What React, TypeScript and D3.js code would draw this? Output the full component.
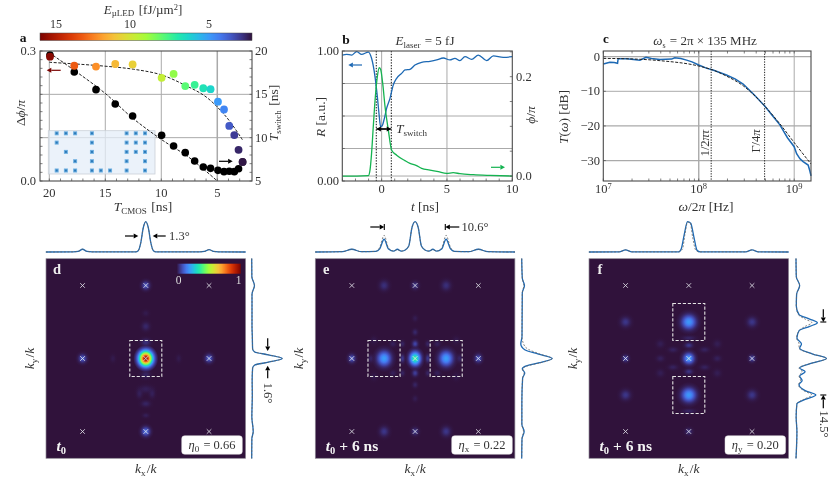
import React from "react";
import * as d3 from "d3";

// ---------- data ----------
const TURBO = ["#30123b","#4145ab","#4675ed","#39a2fc","#1bcfd4","#24eca6","#61fc6c","#a4fc3b","#d1e834","#f3c63a","#fe9b2d","#f36315","#d93806","#b11901","#7a0402"];
const turbo = d3.piecewise(d3.interpolateRgb, TURBO) as (t: number) => string;

const tCmos = [19.94,17.77,15.83,14.11,12.56,9.97,8.9,7.86,7.02,6.25,5.6,4.94,4.4,3.93,3.48,3.1,2.74];
const dPhi = [.287,.266,.264,.27,.269,.238,.247,.219,.222,.214,.212,.183,.165,.127,.106,.072,.044];
const tSwitch = [19.54,17.58,15.54,13.88,12.5,10.27,9.04,8.27,7.31,6.62,6.46,6.23,6.08,6.12,6.08,6.42,7.19];
const eLed = [15.8,13.3,12.3,11.4,10.8,9.8,8.85,8,7.46,6.8,6.35,5,4.55,3.6,3,2.6,2.3];
const phiFit = [[20,.274],[15.5,.266],[12.5,.258],[10,.245],[7.8,.22],[6,.194],[4.2,.148],[2.75,.095]];
const switchFit = [[20,19.8],[17.8,17.8],[15,15.1],[12.6,12.3],[10,9.8],[7.5,7.7],[5,5]];

const insetCols = [0,1,2,3.83,4.8,5.8,7.6,8.6,9.6];
const insetDots = [[0,0],[1,0],[2,0],[3,0],[6,0],[7,0],[8,0],[0,1],[3,1],[6,1],[7,1],[8,1],[1,2],[3,2],[6,2],[7,2],[8,2],[2,3],[3,3],[6,3],[8,3],[0,4],[1,4],[2,4],[3,4],[4,4],[5,4],[6,4],[8,4]];

const bR = [[-3.01,.969],[-2.68,.974],[-2.3,.969],[-1.91,.995],[-1.53,.974],[-1.02,.992],[-.77,.944],[-.51,.805],[-.33,.651],[-.18,.497],[-.08,.418],[.03,.423],[.18,.469],[.38,.559],[.64,.636],[.89,.738],[1.15,.79],[1.53,.828],[1.79,.854],[2.17,.859],[2.55,.892],[3.06,.913],[3.7,.921],[4.21,.931],[4.72,.946],[5.23,.931],[5.61,.944],[5.99,.926],[6.38,.956],[6.89,.936],[7.4,.969],[8.04,.926],[8.55,.962],[9.31,.951],[10,.956]];
const bPhi = [[-3.01,0],[-1.91,0],[-1.02,.0007],[-.89,.012],[-.77,.0456],[-.64,.0993],[-.48,.16],[-.33,.2],[-.18,.218],[-.08,.215],[.08,.187],[.26,.14],[.51,.093],[.77,.052],[1.15,.042],[1.79,.031],[2.17,.0255],[2.63,.0215],[3.06,.0154],[3.7,.012],[4.34,.0087],[4.97,.0054],[5.48,.0067],[5.99,.0047],[7.02,.0027],[8.29,.0013],[10,0]];
const bSwitchLines = [-.41,.74];

const cMeas = [[1e7,-2.1],[1.17e7,-1.6],[1.3e7,-1.7],[1.41e7,-1.9],[1.43e7,-.6],[1.76e7,-.6],[2.42e7,-1],[2.8e7,-.2],[3.2e7,-.5],[3.92e7,-.8],[5.2e7,-.7],[5.6e7,-.3],[6.5e7,-.5],[7.46e7,-1],[8.5e7,-1.5],[1e8,-2.4],[1.2e8,-3.3],[1.41e8,-3.85],[1.95e8,-5.3],[2.4e8,-6.4],[2.92e8,-7.9],[3.8e8,-11],[4.89e8,-14.2],[5.9e8,-17],[7.08e8,-19.7],[8.5e8,-23.4],[1e9,-26],[1.06e9,-28],[1.15e9,-29.5],[1.24e9,-30.3],[1.4e9,-31.3],[1.46e9,-33],[1.5e9,-34.4]];
const cFit = [[1e7,-.5],[1.76e7,-.6],[3.92e7,-1.15],[1e8,-2.7],[1.41e8,-3.85],[1.95e8,-5.6],[2.92e8,-8.4],[4.89e8,-14.2],[7.08e8,-19.4],[1e9,-24.8],[1.5e9,-31]];
const cLines = [1.35e8,4.9e8];

// profiles: [k, normalised intensity]
const dTop = [[-1.58,0],[-1.15,.005],[-1.07,.02],[-1,.09],[-.93,.02],[-.85,.005],[-.16,.005],[-.12,.04],[-.08,.3],[-.04,.8],[0,1],[.04,.8],[.08,.3],[.12,.04],[.16,.005],[.85,.005],[.93,.02],[1,.08],[1.07,.02],[1.15,.005],[1.58,0]];
const dRight = [[1.37,0],[1.12,.005],[1,.09],[.88,.01],[.45,.01],[.3,.02],[.13,.03],[.09,.1],[.05,.55],[0,1],[-.05,.55],[-.09,.1],[-.13,.03],[-.3,.015],[-.5,.02],[-.8,.005],[-1,.05],[-1.1,.005],[-1.37,0]];
const eTop = [[-1.58,0],[-1.15,.01],[-1,.09],[-.85,.01],[-.62,.02],[-.56,.1],[-.49,.42],[-.42,.1],[-.34,.03],[-.28,.09],[-.22,.03],[-.17,.05],[-.1,.2],[-.05,.8],[0,1],[.05,.8],[.1,.2],[.17,.05],[.22,.03],[.28,.09],[.34,.03],[.42,.1],[.49,.42],[.56,.1],[.62,.02],[.85,.01],[1,.09],[1.15,.01],[1.58,0]];
const eTopSim = [[-1.58,0],[-1.15,.01],[-1,.09],[-.85,.01],[-.62,.02],[-.56,.15],[-.49,.55],[-.42,.13],[-.34,.03],[-.28,.08],[-.22,.03],[-.17,.05],[-.1,.2],[-.05,.8],[0,1],[.05,.8],[.1,.2],[.17,.05],[.22,.03],[.28,.08],[.34,.03],[.42,.13],[.49,.55],[.56,.15],[.62,.02],[.85,.01],[1,.09],[1.15,.01],[1.58,0]];
const eRight = [[1.37,0],[1.1,.02],[1,.09],[.9,.02],[.3,.01],[.2,-.03],[.12,.1],[.06,.55],[0,1],[-.06,.55],[-.1,.15],[-.14,.02],[-.2,.1],[-.27,.03],[-.6,.005],[-.9,.005],[-1,.08],[-1.1,.01],[-1.37,0]];
const eRightSim = [[1.37,0],[1.1,.02],[1,.07],[.9,.02],[.3,.01],[.2,.06],[.13,.2],[.06,.6],[0,1],[-.06,.6],[-.1,.2],[-.14,.03],[-.2,.08],[-.27,.03],[-.6,.005],[-.9,.005],[-1,.06],[-1.1,.01],[-1.37,0]];
const fTop = [[-1.58,0],[-1.1,.005],[-1,.07],[-.9,.005],[-.16,.005],[-.12,.1],[-.07,.6],[-.02,1],[.03,.95],[.08,.5],[.13,.06],[.18,.005],[.9,.005],[1,.07],[1.1,.005],[1.58,0]];
const fTopSim = [[-1.58,0],[-1.1,.005],[-1,.07],[-.9,.005],[-.16,.005],[-.1,.1],[-.06,.6],[-.02,.98],[.02,.98],[.06,.5],[.11,.06],[.16,.005],[.9,.005],[1,.07],[1.1,.005],[1.58,0]];
const fRight = [[1.37,0],[1.12,.01],[1,.12],[.88,.02],[.72,.01],[.6,.1],[.54,.45],[.49,.7],[.44,.45],[.38,.1],[.28,.03],[.2,.18],[.14,.12],[.06,.55],[0,1],[-.06,.55],[-.13,.12],[-.18,.3],[-.24,.12],[-.3,.2],[-.36,.1],[-.44,.3],[-.5,.65],[-.56,.3],[-.62,.03],[-.8,.005],[-1,.03],[-1.37,0]];
const fRightSim = [[1.37,0],[1.12,.01],[1,.12],[.88,.02],[.72,.01],[.6,.08],[.54,.3],[.49,.52],[.44,.3],[.38,.1],[.28,.02],[.2,.1],[.14,.1],[.06,.55],[0,1],[-.06,.55],[-.13,.1],[-.18,.2],[-.24,.1],[-.3,.15],[-.36,.08],[-.44,.25],[-.5,.52],[-.56,.25],[-.62,.03],[-.8,.005],[-1,.03],[-1.37,0]];

// spots: [kx, ky, amplitude, radius x, radius y]
const dSpots = [[1,0,.1,.12,.11],[-1,0,.1,.12,.11],[0,1,.09,.12,.11],[0,-1,.13,.13,.12],[.52,0,.012,.08,.1],[-.52,0,.012,.08,.1],[0,.44,.03,.12,.11],[0,.62,.012,.1,.08],[0,-.42,.018,.2,.1],[-.1,-.48,.02,.09,.12],[.1,-.48,.02,.09,.12],[0,-.62,.025,.14,.08],[0,-.78,.018,.1,.06],[0,.22,.04,.14,.1],[0,-.22,.025,.14,.1],[0,0,1,.2,.19]];
const eSpots = [[1,0,.09,.11,.11],[-1,0,.09,.11,.11],[0,1,.05,.11,.1],[0,-1,.05,.11,.1],[.49,1,.04,.14,.13],[-.49,1,.04,.14,.13],[.49,-1,.05,.14,.13],[-.49,-1,.05,.14,.13],[0,.2,.07,.09,.09],[0,-.2,.06,.09,.09],[0,.36,.03,.08,.08],[0,-.36,.025,.08,.08],[0,.55,.015,.08,.08],[0,-.55,.015,.08,.08],[.2,0,.05,.07,.11],[-.2,0,.05,.07,.11],[.2,.2,.025,.07,.08],[-.2,.2,.025,.07,.08],[.2,-.2,.025,.07,.08],[-.2,-.2,.025,.07,.08],[.35,.2,.02,.1,.08],[-.35,.2,.02,.1,.08],[.35,-.2,.02,.1,.08],[-.35,-.2,.02,.1,.08],[.7,0,.025,.08,.1],[-.7,0,.025,.08,.1],[.65,.25,.012,.1,.1],[-.65,.25,.012,.1,.1],[.65,-.25,.012,.1,.1],[-.65,-.25,.012,.1,.1],[.49,0,.21,.2,.19],[-.49,0,.21,.2,.19],[0,0,.38,.16,.17]];
const fSpots = [[0,.5,.2,.21,.18],[0,-.5,.2,.21,.18],[0,0,.21,.16,.14],[1,0,.07,.1,.09],[-1,0,.07,.1,.09],[1,.5,.05,.15,.13],[-1,.5,.05,.15,.13],[1,-.5,.05,.15,.13],[-1,-.5,.05,.15,.13],[0,-1,.04,.11,.09],[0,.18,.05,.12,.07],[0,-.18,.045,.12,.07],[0,.28,.025,.2,.06],[0,-.72,.025,.2,.06],[.25,.12,.022,.14,.07],[-.25,.12,.022,.14,.07],[.25,-.12,.022,.14,.07],[-.25,-.12,.022,.14,.07],[.45,0,.02,.12,.08],[-.45,0,.02,.12,.08],[.45,.2,.016,.12,.1],[-.45,.2,.016,.12,.1],[.45,-.2,.016,.12,.1],[-.45,-.2,.016,.12,.1]];
const crosses = [[-1,1],[0,1],[1,1],[-1,0],[0,0],[1,0],[-1,-1],[0,-1],[1,-1]];
const dBoxes = [[-.253,.253,-.247,.247]];
const eBoxes = [[-.745,-.238,-.247,.247],[.238,.745,-.247,.247]];
const fBoxes = [[-.253,.253,.247,.753],[-.253,.253,-.753,-.247]];

// ---------- styling ----------
const FONT = "'Liberation Serif', serif";
const INK = "#333";
const GRID = "#aaa";
const FRAME = "#4a4a4a";
const BLUE = "#1d69b4";
const GREEN = "#14b350";
const DARKRED = "#7a0402";
const range = (a: number, b: number, s: number) => d3.range(a, b + s / 2, s);

const Sub = ({ t, size = 9 }: any) => <><tspan dy={2.6} fontSize={size}>{t}</tspan><tspan dy={-2.6}>{"\u200a"}</tspan></>;
const I = ({ children }: any) => <tspan fontStyle="italic">{children}</tspan>;

function Txt({ x, y, size = 12, anchor = "middle", rotate, fill = INK, weight, children }: any) {
  return <text x={rotate ? 0 : x} y={rotate ? 0 : y} transform={rotate ? `translate(${x},${y}) rotate(${rotate})` : undefined}
    fontFamily={FONT} fontSize={size} textAnchor={anchor} fill={fill} fontWeight={weight}>{children}</text>;
}

function Arrow({ x1, y1, x2, y2, color = "#000", bar = false }: any) {
  const a = Math.atan2(y2 - y1, x2 - x1), h = 4.6, w = 2.5;
  const bx = x2 - h * Math.cos(a), by = y2 - h * Math.sin(a);
  const nx = -Math.sin(a) * w, ny = Math.cos(a) * w;
  return <g>
    <line x1={x1} y1={y1} x2={bx} y2={by} stroke={color} strokeWidth={1.2} />
    <polygon points={`${x2},${y2} ${bx + nx},${by + ny} ${bx - nx},${by - ny}`} fill={color} />
    {bar && <line x1={x2 + nx * 1.2} y1={y2 + ny * 1.2} x2={x2 - nx * 1.2} y2={y2 - ny * 1.2} stroke={color} strokeWidth={1.1} />}
  </g>;
}

function VTicks({ xs, y0, y1, len = 2.5 }: any) {
  return <g stroke={FRAME} strokeWidth={.7}>{xs.map((v: number, i: number) => <g key={i}>
    {y0 != null && <line x1={v} x2={v} y1={y0} y2={y0 - len} />}
    {y1 != null && <line x1={v} x2={v} y1={y1} y2={y1 + len} />}
  </g>)}</g>;
}
function HTicks({ ys, x0, x1, len = 2.5 }: any) {
  return <g stroke={FRAME} strokeWidth={.7}>{ys.map((v: number, i: number) => <g key={i}>
    {x0 != null && <line x1={x0} x2={x0 + len} y1={v} y2={v} />}
    {x1 != null && <line x1={x1} x2={x1 - len} y1={v} y2={v} />}
  </g>)}</g>;
}
const Frame = ({ x, y, w, h }: any) => <rect x={x} y={y} width={w} height={h} fill="none" stroke={FRAME} strokeWidth={1.1} />;

// ---------- panel a ----------
function PanelA() {
  const L = 40, R = 252, T = 51, B = 181;
  const x = d3.scaleLinear().domain([20.83, 1.9]).range([L, R]);
  const yL = d3.scaleLinear().domain([0, .3]).range([B, T]);
  const yR = d3.scaleLinear().domain([5, 20]).range([B, T]);
  const eScale = d3.scaleLinear().domain([16.05, 2.2]).range([0, 1]);
  const eX = d3.scaleLinear().domain([15, 10, 5]).range([56, 130, 209]);
  const phiLine = d3.line().x((d: any) => x(d[0])).y((d: any) => yL(d[1])).curve(d3.curveCatmullRom);
  const swLine = d3.line().x((d: any) => x(d[0])).y((d: any) => yR(d[1])).curve(d3.curveCatmullRom);
  const ix = d3.scaleLinear().domain([0, 1]).range([56.7, 65.9]);
  const iy = d3.scaleLinear().domain([0, 1]).range([133.3, 142.6]);
  const stops = d3.range(0, 1.001, .05);
  return <g>
    <defs>
      <linearGradient id="cbA">{stops.map(t => <stop key={t} offset={t} stopColor={turbo(1 - t)} />)}</linearGradient>
    </defs>
    <Txt x={143} y={13.5} size={13}><I>E</I><Sub t={"\u00b5LED"} /> [fJ/µm<tspan dy={-4} fontSize={8.5}>2</tspan><tspan dy={4}>]</tspan></Txt>
    {[15, 10, 5].map(v => <Txt key={v} x={eX(v)} y={28} size={12}>{v}</Txt>)}
    <rect x={L} y={33} width={R - L} height={7.5} fill="url(#cbA)" stroke={FRAME} strokeWidth={.5} />
    <Txt x={23} y={42} size={13.5} weight="bold" fill="#111">a</Txt>
    {[10, 15].map(v => <line key={v} x1={L} x2={R} y1={yR(v)} y2={yR(v)} stroke={GRID} strokeWidth={1} />)}
    {[20, 15, 10, 5].map(v => <line key={v} x1={x(v)} x2={x(v)} y1={T} y2={B} stroke={GRID} strokeWidth={v === 5 ? 1.5 : 1} />)}
    <rect x={48.3} y={130.7} width={106.7} height={43.3} fill="#e4edf8" fillOpacity={.75} stroke="#cbd0d8" strokeWidth={.8} />
    <g filter="url(#soft)">
      {insetDots.map(([c, r], i) => <g key={i}>
        <rect x={ix(insetCols[c]) - 2} y={iy(r) - 2} width={4} height={4} fill="#6fb0e0" />
        <rect x={ix(insetCols[c]) - 1} y={iy(r) - 1} width={2} height={2} fill="#2a78b8" />
      </g>)}
    </g>
    <path d={phiLine(phiFit as any) as string} fill="none" stroke="#222" strokeWidth={1} strokeDasharray="3 1.6" />
    <path d={swLine(switchFit as any) as string} fill="none" stroke="#222" strokeWidth={1} strokeDasharray="3 1.6" />
    {tCmos.map((t, i) => <circle key={i} cx={x(t)} cy={yR(tSwitch[i])} r={3.8} fill="#000" />)}
    {tCmos.map((t, i) => <circle key={i} cx={x(t)} cy={yL(dPhi[i])} r={3.9} fill={turbo(1 - eScale(eLed[i]))} />)}
    <VTicks xs={range(3, 20, 1).map(v => x(v))} y0={B} />
    <HTicks ys={range(0, .3, .02).map(v => yL(v))} x0={L} />
    <HTicks ys={range(5, 20, 1).map(v => yR(v))} x1={R} />
    <Frame x={L} y={T} w={R - L} h={B - T} />
    <Arrow x1={60.7} y1={70.3} x2={46.7} y2={70.3} color={DARKRED} />
    <Arrow x1={219} y1={161.3} x2={232.7} y2={161.3} />
    {[20, 15, 10, 5].map(v => <Txt key={v} x={x(v)} y={197} size={12.5}>{v}</Txt>)}
    <Txt x={36} y={55} size={12.5} anchor="end">0.3</Txt>
    <Txt x={36} y={185} size={12.5} anchor="end">0.0</Txt>
    {[20, 15, 10, 5].map(v => <Txt key={v} x={255} y={yR(v) + 4} size={12.5} anchor="start">{v}</Txt>)}
    <Txt x={25} y={113} size={13.5} rotate={-90}>Δ<I>ϕ</I>/<I>π</I></Txt>
    <Txt x={278} y={113} size={13.5} rotate={-90}><I>T</I><Sub t="switch" /> [ns]</Txt>
    <Txt x={143} y={211} size={13.5}><I>T</I><Sub t="CMOS" /> [ns]</Txt>
  </g>;
}

// ---------- panel b ----------
function PanelB() {
  const L = 342.3, R = 512.3, T = 51, B = 181;
  const x = d3.scaleLinear().domain([-3.01, 10]).range([L, R]);
  const y = d3.scaleLinear().domain([0, 1]).range([B, T]);
  const yP = d3.scaleLinear().domain([-.01, .2517]).range([B, T]);
  const rl = d3.line().x((d: any) => x(d[0])).y((d: any) => y(d[1])).curve(d3.curveMonotoneX);
  const pl = d3.line().x((d: any) => x(d[0])).y((d: any) => yP(d[1])).curve(d3.curveMonotoneX);
  return <g>
    <Txt x={346} y={44} size={13.5} weight="bold" fill="#111">b</Txt>
    <Txt x={425} y={45} size={13}><I>E</I><Sub t="laser" /> = 5 fJ</Txt>
    {[.25, .5, .75].map(v => <line key={v} x1={L} x2={R} y1={y(v)} y2={y(v)} stroke={GRID} />)}
    <line x1={L} x2={R} y1={yP(0)} y2={yP(0)} stroke={GRID} />
    {[0, 5].map(v => <line key={v} x1={x(v)} x2={x(v)} y1={T} y2={B} stroke={GRID} />)}
    {bSwitchLines.map(v => <line key={v} x1={x(v)} x2={x(v)} y1={T} y2={B} stroke="#111" strokeWidth={1} strokeDasharray="1.4 1.4" />)}
    <path d={rl(bR as any) as string} fill="none" stroke={BLUE} strokeWidth={1.3} />
    <path d={pl(bPhi as any) as string} fill="none" stroke={GREEN} strokeWidth={1.3} />
    <VTicks xs={range(-3, 10, 1).map(v => x(v))} y0={B} />
    <HTicks ys={range(0, .25, .05).map(v => yP(v))} x1={R} />
    <HTicks ys={range(0, 1, .25).map(v => y(v))} x0={L} />
    <Frame x={L} y={T} w={R - L} h={B - T} />
    <Arrow x1={x(bSwitchLines[1])} y1={129} x2={x(bSwitchLines[0])} y2={129} />
    <Arrow x1={x(bSwitchLines[0])} y1={129} x2={x(bSwitchLines[1])} y2={129} />
    <Txt x={396} y={133} size={13.5} anchor="start"><I>T</I><Sub t="switch" /></Txt>
    <Arrow x1={362} y1={65} x2={348.3} y2={65} color={BLUE} />
    <Arrow x1={491} y1={167.3} x2={505} y2={167.3} color={GREEN} />
    {[0, 5, 10].map(v => <Txt key={v} x={x(v)} y={193} size={12.5}>{v}</Txt>)}
    <Txt x={339} y={55} size={12.5} anchor="end">1.00</Txt>
    <Txt x={339} y={185} size={12.5} anchor="end">0.00</Txt>
    <Txt x={516} y={yP(.2) + 4} size={12.5} anchor="start">0.2</Txt>
    <Txt x={516} y={yP(0) + 4} size={12.5} anchor="start">0.0</Txt>
    <Txt x={325} y={117} size={13.5} rotate={-90}><I>R</I> [a.u.]</Txt>
    <Txt x={535} y={115} size={13.5} rotate={-90}><I>ϕ</I>/<I>π</I></Txt>
    <Txt x={425} y={211} size={13.5}><I>t</I> [ns]</Txt>
  </g>;
}

// ---------- panel c ----------
function PanelC() {
  const L = 603.3, R = 811, T = 51, B = 181;
  const x = d3.scaleLog().domain([1e7, 1.5e9]).range([L, R]);
  const y = d3.scaleLinear().domain([1.64, -35.9]).range([T, B]);
  const line = d3.line().x((d: any) => x(d[0])).y((d: any) => y(d[1]));
  const fit = d3.line().x((d: any) => x(d[0])).y((d: any) => y(d[1])).curve(d3.curveMonotoneX);
  const minor: number[] = [];
  [1e7, 1e8, 1e9].forEach(dec => d3.range(1, 10).forEach(m => { if (dec * m <= 1.5e9) minor.push(dec * m); }));
  const pow = [7, 8, 9];
  return <g>
    <Txt x={606} y={43} size={13} weight="bold" fill="#111">c</Txt>
    <Txt x={705} y={45} size={13}><I>ω</I><Sub t="s" size={8} /> = 2π × 135 MHz</Txt>
    {[0, -10, -20, -30].map(v => <line key={v} x1={L} x2={R} y1={y(v)} y2={y(v)} stroke={GRID} strokeWidth={v === -10 ? 1 : 1.3} />)}
    {[1e8, 1e9].map(v => <line key={v} x1={x(v)} x2={x(v)} y1={T} y2={B} stroke={GRID} strokeWidth={v === 1e8 ? 1.4 : 1} />)}
    {cLines.map(v => <line key={v} x1={x(v)} x2={x(v)} y1={T} y2={B} stroke="#222" strokeWidth={1} strokeDasharray="1.3 1.3" />)}
    <path d={line(cMeas as any) as string} fill="none" stroke={BLUE} strokeWidth={1.5} />
    <path d={fit(cFit as any) as string} fill="none" stroke="#222" strokeWidth={1} strokeDasharray="3 1.5" />
    <VTicks xs={minor.map(v => x(v))} y0={B} y1={T} />
    <HTicks ys={[0, -10, -20, -30].map(v => y(v))} x0={L} />
    <Frame x={L} y={T} w={R - L} h={B - T} />
    {pow.map(p => <Txt key={p} x={x(Math.pow(10, p))} y={193} size={12.5}>10<tspan dy={-4.5} fontSize={8.5}>{p}</tspan></Txt>)}
    {[0, -10, -20, -30].map(v => <Txt key={v} x={600} y={y(v) + 4} size={12.5} anchor="end">{v === 0 ? "0" : "\u2212" + Math.abs(v)}</Txt>)}
    <Txt x={709} y={143} size={12.5} rotate={-90}>1/2<I>πτ</I></Txt>
    <Txt x={760} y={141} size={12.5} rotate={-90}>Γ/4<I>π</I></Txt>
    <Txt x={568} y={117} size={13.5} rotate={-90}><I>T</I>(<I>ω</I>) [dB]</Txt>
    <Txt x={706} y={211} size={13.5}><I>ω</I>/2<I>π</I> [Hz]</Txt>
  </g>;
}

// ---------- panels d, e, f ----------
function Heat({ id, x0, spots, boxes, letter, time, eta, etaX, meas, sim, measR, simR, rightX, colorbar }: any) {
  const W = 199.6, T = 258.7, H = 199.6;
  const x = d3.scaleLinear().domain([-1.578, 1.578]).range([x0, x0 + W]);
  const y = d3.scaleLinear().domain([-1.367, 1.367]).range([T + H, T]);
  const topV = d3.scaleLinear().domain([0, 1]).range([252, 221.7]);
  const rightV = d3.scaleLinear().domain([0, 1]).range([rightX, rightX + 30.5]);
  const top = d3.line().x((d: any) => x(d[0])).y((d: any) => topV(d[1])).curve(d3.curveMonotoneX);
  const right = d3.line().x((d: any) => rightV(d[1])).y((d: any) => y(d[0])).curve(d3.curveMonotoneY);
  const fs = d3.range(0, 1.001, .1);
  return <g>
    <defs>
      <clipPath id={`clip${id}`}><rect x={x0} y={T} width={W} height={H} /></clipPath>
      {spots.map((s: number[], i: number) => <radialGradient key={i} id={`${id}s${i}`}>
        {fs.map(f => {
          const v = s[2] * Math.exp(-4.5 * f * f);
          return <stop key={f} offset={f} stopColor={turbo(Math.max(v, .02))} stopOpacity={f === 1 ? 0 : Math.min(1, v / .02)} />;
        })}
      </radialGradient>)}
    </defs>
    <rect x={x0} y={T} width={W} height={H} fill={TURBO[0]} />
    <g clipPath={`url(#clip${id})`}>
      {spots.map((s: number[], i: number) => <ellipse key={i} cx={x(s[0])} cy={y(s[1])}
        rx={x(s[3]) - x(0)} ry={y(0) - y(s[4])} fill={`url(#${id}s${i})`} />)}
    </g>
    <g stroke="#dfdfe6" strokeWidth={.85}>
      {crosses.map(([a, b], i) => <g key={i}>
        <line x1={x(a) - 2.3} x2={x(a) + 2.3} y1={y(b) - 2.3} y2={y(b) + 2.3} />
        <line x1={x(a) - 2.3} x2={x(a) + 2.3} y1={y(b) + 2.3} y2={y(b) - 2.3} />
      </g>)}
    </g>
    {boxes.map((b: number[], i: number) => <rect key={i} x={x(b[0])} y={y(b[3])} width={x(b[1]) - x(b[0])} height={y(b[2]) - y(b[3])}
      fill="none" stroke="#e4e4e4" strokeWidth={1.1} strokeDasharray="3.2 1.8" />)}
    <rect x={x0} y={T} width={W} height={H} fill="none" stroke="#8f8a96" strokeWidth={.7} />
    <path d={top(meas) as string} fill="none" stroke={BLUE} strokeWidth={1.3} />
    <path d={top(sim) as string} fill="none" stroke="#666" strokeWidth={.8} strokeDasharray="2 1.6" />
    <path d={right(measR) as string} fill="none" stroke={BLUE} strokeWidth={1.3} />
    <path d={right(simR) as string} fill="none" stroke="#666" strokeWidth={.8} strokeDasharray="2 1.6" />
    <Txt x={x0 + 11} y={274} size={14.5} weight="bold" fill="#eee">{letter}</Txt>
    <Txt x={x0 + 10.5} y={451} size={15.5} anchor="start" weight="bold" fill="#f4f4f4">{time}</Txt>
    <rect x={etaX} y={435.7} width={60.6} height={18.6} rx={3} fill="#fff" stroke="#ddd" strokeWidth={.5} />
    <Txt x={etaX + 30.3} y={449} size={12.5}>{eta}</Txt>
    <Txt x={x0 + W / 2} y={473} size={13.5}><I>k</I><Sub t="x" />/<I>k</I></Txt>
    <Txt x={x0 - 12} y={358.5} size={13.5} rotate={-90}><I>k</I><Sub t="y" />/<I>k</I></Txt>
    {colorbar}
  </g>;
}

function App() {
  const cbStops = d3.range(0, 1.001, .05);
  return <svg width={831} height={480} viewBox="0 0 831 480" style={{ position: "absolute", left: 0, top: 0, display: "block", background: "#fff", filter: "blur(0.3px)" }}>
    <defs>
      <filter id="soft" x="-5%" y="-5%" width="110%" height="110%"><feGaussianBlur stdDeviation=".6" /></filter>
      <linearGradient id="cbD">{cbStops.map(t => <stop key={t} offset={t} stopColor={turbo(t)} />)}</linearGradient>
    </defs>
    <PanelA />
    <PanelB />
    <PanelC />
    <Heat id="d" x0={46} spots={dSpots} boxes={dBoxes} letter="d" etaX={181.7} meas={dTop} sim={dTop} measR={dRight} simR={dRight} rightX={251.7}
      time={<tspan fontStyle="italic">t<tspan dy={3} fontSize={10.5} fontStyle="normal">0</tspan></tspan>}
      eta={<><I>η</I><Sub t="0" /> = 0.66</>}
      colorbar={<g>
        <rect x={176.7} y={263.7} width={64} height={10} fill="url(#cbD)" />
        <Txt x={178.7} y={284} size={11.5} fill="#ddd">0</Txt>
        <Txt x={238.7} y={284} size={11.5} fill="#ddd">1</Txt>
      </g>} />
    <Heat id="e" x0={315.3} spots={eSpots} boxes={eBoxes} letter="e" etaX={451.7} meas={eTop} sim={eTopSim} measR={eRight} simR={eRightSim} rightX={521.7}
      time={<><tspan fontStyle="italic">t<tspan dy={3} fontSize={10.5} fontStyle="normal">0</tspan></tspan><tspan dy={-3}> + 6 ns</tspan></>}
      eta={<><I>η</I><Sub t="x" /> = 0.22</>} />
    <Heat id="f" x0={589} spots={fSpots} boxes={fBoxes} letter="f" etaX={725} meas={fTop} sim={fTopSim} measR={fRight} simR={fRightSim} rightX={796}
      time={<><tspan fontStyle="italic">t<tspan dy={3} fontSize={10.5} fontStyle="normal">0</tspan></tspan><tspan dy={-3}> + 6 ns</tspan></>}
      eta={<><I>η</I><Sub t="y" /> = 0.20</>} />
    {/* width annotations */}
    <Arrow x1={125} y1={236} x2={138.3} y2={236} />
    <Arrow x1={165.7} y1={236} x2={152.7} y2={236} />
    <Txt x={169} y={240} size={12.5} anchor="start">1.3°</Txt>
    <Arrow x1={267.7} y1={338.3} x2={267.7} y2={351} />
    <Arrow x1={267.7} y1={378.3} x2={267.7} y2={365.7} />
    <Txt x={264} y={393} size={12.5} rotate={90} anchor="middle">1.6°</Txt>
    <Arrow x1={370.3} y1={227} x2={384.3} y2={227} bar />
    <Arrow x1={459.3} y1={227} x2={445.3} y2={227} bar />
    <Txt x={461.5} y={231} size={12.5} anchor="start">10.6°</Txt>
    <Arrow x1={823.3} y1={309.3} x2={823.3} y2={322} bar />
    <Arrow x1={823.3} y1={408.3} x2={823.3} y2={395} bar />
    <Txt x={819.5} y={424} size={12.5} rotate={90}>14.5°</Txt>
  </svg>;
}

export default App;
